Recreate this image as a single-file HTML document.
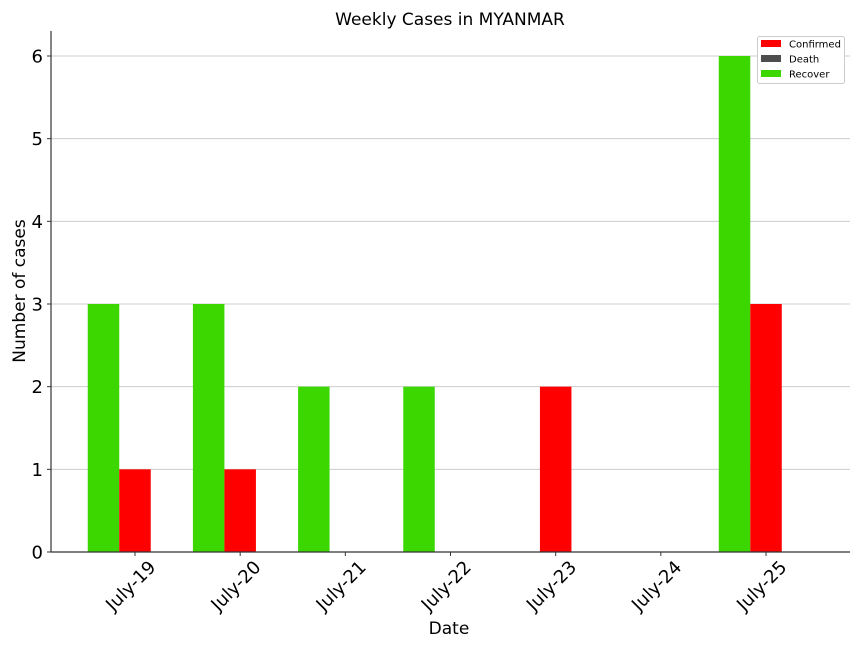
<!DOCTYPE html>
<html><head><meta charset="utf-8"><style>body{margin:0;background:#fff}svg{display:block;font-family:"DejaVu Sans","Liberation Sans",sans-serif}</style></head>
<body>
<svg id="chart" width="864" height="648">
<rect width="864" height="648" fill="#fff"/>
<g id="grid"></g><g id="bars"></g><g id="axes"></g>
<text x="450" y="25" text-anchor="middle" font-size="17">Weekly Cases in MYANMAR</text>
<text x="449" y="634" text-anchor="middle" font-size="17">Date</text>
<text transform="translate(25,291) rotate(-90)" text-anchor="middle" font-size="17">Number of cases</text>
<g>
<rect x="757.5" y="36.5" width="87" height="47" fill="#fff" stroke="#ccc" rx="2"/>
<rect x="761" y="40" width="20" height="7" fill="#ff0000"/><text x="789" y="47.5" font-size="10">Confirmed</text>
<rect x="761" y="55" width="20" height="7" fill="#4d4d4d"/><text x="789" y="62.5" font-size="10">Death</text>
<rect x="761" y="70" width="20" height="7" fill="#3cd700"/><text x="789" y="77.5" font-size="10">Recover</text>
</g>
</svg>
<script>
const categories=["July-19","July-20","July-21","July-22","July-23","July-24","July-25"];
const recover=[3,3,2,2,0,0,6];
const confirmed=[1,1,0,0,2,0,3];
const death=[0,0,0,0,0,0,0];
const yTicks=[0,1,2,3,4,5,6];
const NS="http://www.w3.org/2000/svg";
const L=51,R=850,T=31,B=552;
const y=v=>B-v*(B-56)/6;
const step=105.17, x0=135, bw=31.5;
const x=i=>x0+i*step;
function el(tag,attrs,parent,txt){const e=document.createElementNS(NS,tag);for(const k in attrs)e.setAttribute(k,attrs[k]);if(txt!==undefined)e.textContent=txt;parent.appendChild(e);return e;}
const grid=document.getElementById('grid'),bars=document.getElementById('bars'),axes=document.getElementById('axes');
yTicks.forEach(t=>{
 if(t>0){const g=el('line',{x1:L,x2:R,y1:y(t),y2:y(t),stroke:'#cccccc','stroke-width':1},grid);
 
 }
 el('line',{x1:L-4,x2:L,y1:y(t),y2:y(t),stroke:'#333'},axes);
 const lb=el('text',{x:L-8,y:y(t)+6.5,'text-anchor':'end','font-size':18},axes,String(t));
 
 
});
categories.forEach((c,i)=>{
 const series=[[recover[i],'#3cd700',-1,'recover'],[confirmed[i],'#ff0000',0,'confirmed'],[death[i],'#4d4d4d',1,'death']];
 series.forEach(s=>{
  if(s[0]<=0)return;
  const r=el('rect',{x:x(i)+s[2]*bw-bw/2,y:y(s[0]),width:bw,height:B-y(s[0]),fill:s[1]},bars);
  
  
 });
 el('line',{x1:x(i),x2:x(i),y1:B,y2:B+4,stroke:'#333'},axes);
 const t=el('text',{transform:`translate(${x(i)},${B+38}) rotate(-45)`,'text-anchor':'middle','font-size':18},axes,c);
 
 
});
el('line',{x1:L,x2:L,y1:T,y2:B,stroke:'#333','stroke-width':1.2},axes);
el('line',{x1:L,x2:R,y1:B,y2:B,stroke:'#333','stroke-width':1.2},axes);
</script>
</body></html>
